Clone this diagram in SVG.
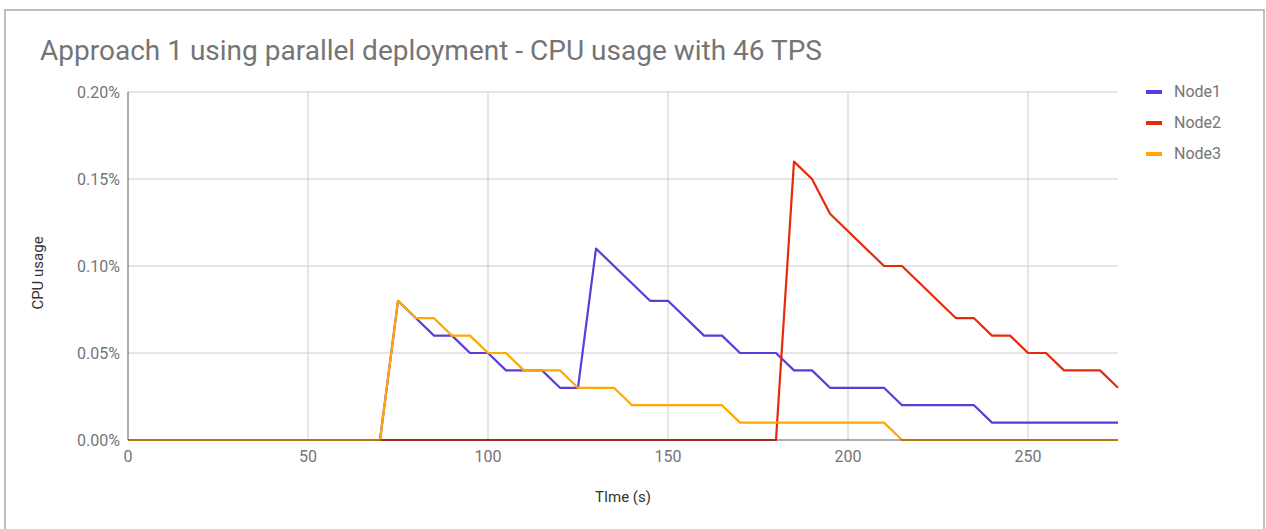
<svg xmlns="http://www.w3.org/2000/svg" width="1266" height="529" viewBox="0 0 1266 529">
<style>
.grid{stroke:#cccccc;stroke-width:1;fill:none}
.axis{stroke:#333333;stroke-width:1;fill:none}
.tick{font-family:Roboto,"Liberation Sans",sans-serif;font-size:16px;fill:#757575}
.ytick{text-anchor:end}
.xtick{text-anchor:middle}
.atitle{font-family:Roboto,"Liberation Sans",sans-serif;font-size:15px;fill:#333333}
.title{font-family:Roboto,"Liberation Sans",sans-serif;font-size:28px;fill:#757575}
.series{fill:none;stroke-width:2.2;stroke-linejoin:round;stroke-linecap:butt}
.leg{font-family:Roboto,"Liberation Sans",sans-serif;font-size:16px;fill:#757575}
</style>
<rect x="0" y="0" width="1266" height="529" fill="#ffffff"/>
<path d="M5,529 V10 H1264 V529" fill="none" stroke="#aaaaaa" stroke-width="1.5"/>
<text class="title" x="40" y="60" textLength="782" lengthAdjust="spacingAndGlyphs">Approach 1 using parallel deployment - CPU usage with 46 TPS</text>
<g id="grid">
<path class="grid" d="M308,92V440M488,92V440M668,92V440M848,92V440M1028,92V440"/>
<path class="grid" d="M128,92H1118M128,179H1118M128,266H1118M128,353H1118"/>
</g>
<g id="y-axis">
<text class="tick ytick" x="120" y="98">0.20%</text>
<text class="tick ytick" x="120" y="185">0.15%</text>
<text class="tick ytick" x="120" y="272">0.10%</text>
<text class="tick ytick" x="120" y="359">0.05%</text>
<text class="tick ytick" x="120" y="446">0.00%</text>
<text class="atitle" text-anchor="middle" transform="translate(43,273) rotate(-90)">CPU usage</text>
</g>
<g id="x-axis">
<text class="tick xtick" x="128" y="462">0</text>
<text class="tick xtick" x="308" y="462">50</text>
<text class="tick xtick" x="488" y="462">100</text>
<text class="tick xtick" x="668" y="462">150</text>
<text class="tick xtick" x="848" y="462">200</text>
<text class="tick xtick" x="1028" y="462">250</text>
<text class="atitle" text-anchor="middle" x="623" y="502">TIme (s)</text>
</g>
<g id="connectors">
<polyline id="node1-line" class="series" stroke="#5b3cda" points="128,440 380,440 398,300.8 416,318.2 434,335.6 452,335.6 470,353 488,353 506,370.4 542,370.4 560,387.8 578,387.8 596,248.6 650,300.8 668,300.8 704,335.6 722,335.6 740,353 776,353 794,370.4 812,370.4 830,387.8 884,387.8 902,405.2 974,405.2 992,422.6 1118,422.6"/>
<polyline id="node2-line" class="series" stroke="#e62a0a" points="128,440 776,440 794,161.6 812,179 830,213.8 884,266 902,266 956,318.2 974,318.2 992,335.6 1010,335.6 1028,353 1046,353 1064,370.4 1100,370.4 1118,387.8"/>
<polyline id="node3-line" class="series" stroke="#ffa800" points="128,440 380,440 398,300.8 416,318.2 434,318.2 452,335.6 470,335.6 488,353 506,353 524,370.4 560,370.4 578,387.8 614,387.8 632,405.2 722,405.2 740,422.6 884,422.6 902,440 1118,440"/>
<path class="axis" d="M128,92V440H1118" stroke-opacity="0.8"/>
</g>
<g id="legend">
<g id="legend-node1"><rect x="1146" y="90" width="16" height="4" fill="#5b3cda"/><text class="leg" x="1174" y="97">Node1</text></g>
<g id="legend-node2"><rect x="1146" y="121" width="16" height="4" fill="#e62a0a"/><text class="leg" x="1174" y="128">Node2</text></g>
<g id="legend-node3"><rect x="1146" y="152" width="16" height="4" fill="#ffa800"/><text class="leg" x="1174" y="159">Node3</text></g>
</g>
</svg>
